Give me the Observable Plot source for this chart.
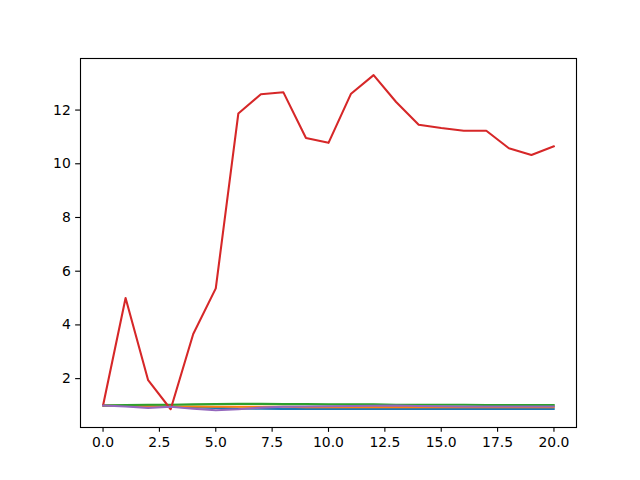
<!DOCTYPE html>
<html>
<head>
<meta charset="utf-8">
<script src="https://cdn.jsdelivr.net/npm/d3@7"></script>
<script src="https://cdn.jsdelivr.net/npm/@observablehq/plot@0.6"></script>
<style>
  html, body { margin: 0; padding: 0; background: #fff; }
  #chart svg { display: block; }
</style>
</head>
<body>
<div id="chart"></div>
<script>
const steps = d3.range(0, 21);
const seriesNames = ["s0", "s1", "s2", "s3", "s4"];
const seriesColors = ["#1f77b4", "#ff7f0e", "#2ca02c", "#d62728", "#9467bd"];
const s0 = [1.0, 0.99, 0.97, 0.95, 0.93, 0.91, 0.89, 0.88, 0.87, 0.87, 0.87, 0.87, 0.87, 0.87, 0.87, 0.87, 0.87, 0.87, 0.87, 0.87, 0.87];
const s1 = [1.0, 0.99, 0.97, 0.96, 0.96, 0.95, 0.95, 0.95, 0.95, 0.94, 0.94, 0.94, 0.94, 0.94, 0.94, 0.94, 0.94, 0.94, 0.94, 0.94, 0.94];
const s2 = [1.0, 1.02, 1.03, 1.03, 1.04, 1.05, 1.06, 1.06, 1.05, 1.05, 1.04, 1.04, 1.04, 1.03, 1.03, 1.03, 1.03, 1.02, 1.02, 1.02, 1.02];
const s3 = [1.0, 5.0, 1.94, 0.86, 3.66, 5.36, 11.87, 12.59, 12.66, 10.96, 10.78, 12.61, 13.30, 12.30, 11.45, 11.33, 11.23, 11.23, 10.58, 10.33, 10.65];
const s4 = [1.0, 0.96, 0.91, 0.95, 0.88, 0.82, 0.86, 0.92, 0.95, 0.96, 0.97, 0.98, 0.99, 1.0, 0.98, 0.97, 0.96, 0.96, 0.96, 0.96, 0.96];
const xTicks = [0, 2.5, 5, 7.5, 10, 12.5, 15, 17.5, 20];
const yTicks = [2, 4, 6, 8, 10, 12];

const allSeries = [s0, s1, s2, s3, s4];
const rows = [];
allSeries.forEach((vals, k) => vals.forEach((v, i) => rows.push({x: steps[i], y: v, s: seriesNames[k]})));

const chart = Plot.plot({
  width: 640,
  height: 480,
  marginLeft: 80,
  marginRight: 64,
  marginTop: 58,
  marginBottom: 53,
  style: {fontFamily: "DejaVu Sans, sans-serif", fontSize: "13.9px", color: "black", background: "white"},
  x: {domain: [-1, 21]},
  y: {domain: [0.18, 13.92]},
  color: {domain: seriesNames, range: seriesColors},
  marks: [
    Plot.line(rows, {x: "x", y: "y", z: "s", stroke: "s", strokeWidth: 2.08}),
    Plot.frame({stroke: "black", strokeWidth: 1.11}),
    Plot.axisX({ticks: xTicks, tickFormat: d => d.toFixed(1), tickSize: 4.86, tickPadding: 4.86, label: null, stroke: "black", fill: "black", fontSize: 13.9, strokeWidth: 1.11}),
    Plot.axisY({ticks: yTicks, tickFormat: d => String(d), tickSize: 4.86, tickPadding: 4.86, label: null, stroke: "black", fill: "black", fontSize: 13.9, strokeWidth: 1.11})
  ]
});
document.getElementById("chart").appendChild(chart);
</script>
</body>
</html>
